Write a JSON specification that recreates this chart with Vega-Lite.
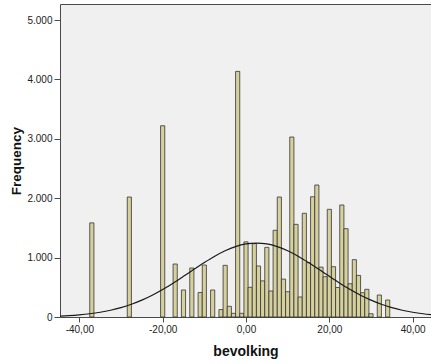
{
  "$schema": "https://vega.github.io/schema/vega-lite/v6.json",
  "width": 371,
  "height": 313,
  "autosize": {"type": "none"},
  "padding": {"left": 60, "top": 4, "right": 0, "bottom": 47},
  "background": "white",
  "config": {
    "font": "Liberation Sans",
    "view": {"fill": "#F0F0F0", "stroke": "#4a4a4a", "strokeWidth": 1}
  },
  "datasets": {
    "bars": [
      {"bin_start": -37.5, "bin_end": -36.5, "count": 1585},
      {"bin_start": -28.5, "bin_end": -27.5, "count": 2020},
      {"bin_start": -20.5, "bin_end": -19.5, "count": 3220},
      {"bin_start": -17.5, "bin_end": -16.5, "count": 892},
      {"bin_start": -15.5, "bin_end": -14.5, "count": 455},
      {"bin_start": -13.5, "bin_end": -12.5, "count": 825},
      {"bin_start": -11.5, "bin_end": -10.5, "count": 413},
      {"bin_start": -10.5, "bin_end": -9.5, "count": 875},
      {"bin_start": -8.5, "bin_end": -7.5, "count": 455},
      {"bin_start": -6.5, "bin_end": -5.5, "count": 125},
      {"bin_start": -5.5, "bin_end": -4.5, "count": 870},
      {"bin_start": -4.5, "bin_end": -3.5, "count": 180},
      {"bin_start": -3.5, "bin_end": -2.5, "count": 62},
      {"bin_start": -2.5, "bin_end": -1.5, "count": 4135},
      {"bin_start": -1.5, "bin_end": -0.5, "count": 62},
      {"bin_start": -0.5, "bin_end": 0.5, "count": 1265},
      {"bin_start": 0.5, "bin_end": 1.5, "count": 500},
      {"bin_start": 1.5, "bin_end": 2.5, "count": 1235},
      {"bin_start": 2.5, "bin_end": 3.5, "count": 859},
      {"bin_start": 3.5, "bin_end": 4.5, "count": 608},
      {"bin_start": 4.5, "bin_end": 5.5, "count": 1173},
      {"bin_start": 5.5, "bin_end": 6.5, "count": 438},
      {"bin_start": 6.5, "bin_end": 7.5, "count": 1460},
      {"bin_start": 7.5, "bin_end": 8.5, "count": 2020},
      {"bin_start": 8.5, "bin_end": 9.5, "count": 638},
      {"bin_start": 9.5, "bin_end": 10.5, "count": 426},
      {"bin_start": 10.5, "bin_end": 11.5, "count": 3030},
      {"bin_start": 11.5, "bin_end": 12.5, "count": 1560},
      {"bin_start": 12.5, "bin_end": 13.5, "count": 337},
      {"bin_start": 13.5, "bin_end": 14.5, "count": 1746},
      {"bin_start": 14.5, "bin_end": 15.5, "count": 915},
      {"bin_start": 15.5, "bin_end": 16.5, "count": 2025},
      {"bin_start": 16.5, "bin_end": 17.5, "count": 2222},
      {"bin_start": 17.5, "bin_end": 18.5, "count": 840},
      {"bin_start": 18.5, "bin_end": 19.5, "count": 679},
      {"bin_start": 19.5, "bin_end": 20.5, "count": 1813},
      {"bin_start": 20.5, "bin_end": 21.5, "count": 847},
      {"bin_start": 21.5, "bin_end": 22.5, "count": 497},
      {"bin_start": 22.5, "bin_end": 23.5, "count": 1886},
      {"bin_start": 23.5, "bin_end": 24.5, "count": 1487},
      {"bin_start": 24.5, "bin_end": 25.5, "count": 560},
      {"bin_start": 25.5, "bin_end": 26.5, "count": 965},
      {"bin_start": 26.5, "bin_end": 27.5, "count": 700},
      {"bin_start": 27.5, "bin_end": 28.5, "count": 409},
      {"bin_start": 28.5, "bin_end": 29.5, "count": 466},
      {"bin_start": 29.5, "bin_end": 30.5, "count": 55},
      {"bin_start": 31.5, "bin_end": 32.5, "count": 370},
      {"bin_start": 33.5, "bin_end": 34.5, "count": 286}
    ],
    "curve": [
      {"v": -45, "f": 15.2}, {"v": -42.5, "f": 23.8}, {"v": -40, "f": 36.6},
      {"v": -37.5, "f": 54.7}, {"v": -35, "f": 79.8}, {"v": -32.5, "f": 113.8},
      {"v": -30, "f": 158.3}, {"v": -27.5, "f": 214.7}, {"v": -25, "f": 284.3},
      {"v": -22.5, "f": 367.3}, {"v": -20, "f": 463.2}, {"v": -17.5, "f": 570.0},
      {"v": -15, "f": 684.5}, {"v": -12.5, "f": 802.3}, {"v": -10, "f": 917.6},
      {"v": -7.5, "f": 1024.1}, {"v": -5, "f": 1115.5}, {"v": -2.5, "f": 1185.6},
      {"v": 0, "f": 1229.9}, {"v": 2.5, "f": 1245}, {"v": 5, "f": 1229.9},
      {"v": 7.5, "f": 1185.6}, {"v": 10, "f": 1115.5}, {"v": 12.5, "f": 1024.1},
      {"v": 15, "f": 917.6}, {"v": 17.5, "f": 802.3}, {"v": 20, "f": 684.5},
      {"v": 22.5, "f": 570.0}, {"v": 25, "f": 463.2}, {"v": 27.5, "f": 367.3},
      {"v": 30, "f": 284.3}, {"v": 32.5, "f": 214.7}, {"v": 35, "f": 158.3},
      {"v": 37.5, "f": 113.8}, {"v": 40, "f": 79.8}, {"v": 42.5, "f": 54.7},
      {"v": 45, "f": 36.6}
    ]
  },
  "layer": [
    {
      "data": {"name": "bars"},
      "mark": {"type": "rect", "fill": "#D6D09C", "stroke": "#333333", "strokeWidth": 0.8},
      "encoding": {
        "x": {
          "field": "bin_start",
          "type": "quantitative",
          "title": "bevolking",
          "scale": {"domain": [-44.64, 44.40], "nice": false, "zero": false},
          "axis": {
            "values": [-40, -20, 0, 20, 40],
            "labelExpr": "replace(replace(format(datum.value, '.2f'), '.', ','), '−', '-')",
            "domain": false,
            "grid": false,
            "ticks": true,
            "tickSize": 5,
            "tickColor": "#4a4a4a",
            "labelFontSize": 10,
            "labelColor": "#222222",
            "labelPadding": 2,
            "labelFlush": false,
            "labelOverlap": false,
            "titleFontSize": 14,
            "titleFontWeight": "bold",
            "titleColor": "#111111",
            "titlePadding": 10
          }
        },
        "x2": {"field": "bin_end"},
        "y": {
          "field": "count",
          "type": "quantitative",
          "title": "Frequency",
          "scale": {"domain": [0, 5270], "nice": false},
          "axis": {
            "values": [0, 1000, 2000, 3000, 4000, 5000],
            "labelExpr": "replace(format(datum.value, ','), ',', '.')",
            "domain": false,
            "grid": false,
            "tickSize": 6,
            "tickColor": "#4a4a4a",
            "labelFontSize": 10,
            "labelColor": "#222222",
            "labelPadding": 2,
            "labelFlush": false,
            "labelOverlap": false,
            "titleFontSize": 13.5,
            "titleFontWeight": "bold",
            "titleColor": "#111111",
            "titlePadding": 3
          }
        }
      }
    },
    {
      "data": {"name": "curve"},
      "mark": {"type": "line", "color": "#1a1a1a", "strokeWidth": 1.2, "clip": true, "interpolate": "monotone"},
      "encoding": {
        "x": {"field": "v", "type": "quantitative"},
        "y": {"field": "f", "type": "quantitative"}
      }
    }
  ]
}
